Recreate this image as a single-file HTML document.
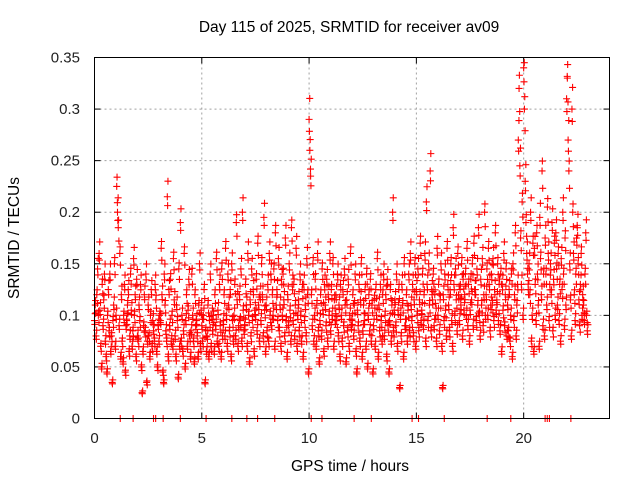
<!DOCTYPE html>
<html><head><meta charset="utf-8"><style>
body{margin:0;background:#fff}
svg{display:block;font-family:"Liberation Sans",sans-serif}
</style></head><body>
<svg id="chart" width="640" height="480" viewBox="0 0 640 480" xmlns="http://www.w3.org/2000/svg">
<rect width="640" height="480" fill="#fff"/>
<text x="349" y="32" font-size="15.5" text-anchor="middle">Day 115 of 2025, SRMTID for receiver av09</text>
<text transform="translate(19,238) rotate(-90)" font-size="15.5" text-anchor="middle">SRMTID / TECUs</text>
<text x="350" y="471" font-size="15.5" text-anchor="middle">GPS time / hours</text>
<g id="grid"></g><g id="ticks"></g><g id="marks"></g>
<rect x="94.5" y="57.5" width="515" height="361" fill="none" stroke="#000" stroke-width="1"/>
</svg>
<script>
const binStarts=[];for(let i=0;i<92;i++)binStarts.push(i*0.25);
const binValues=[
[95,110,80,120,145,100,160],[105,70,50,130,90,115,140],[75,60,45,100,125,85,140],[65,80,35,95,110,150,70],
[100,225,200,185,90,160,60],[120,75,55,100,130,45,90],[95,110,125,65,80,140,105],[70,85,155,100,120,60,135],
[80,75,110,95,130,50,25],[65,90,120,85,140,35,75],[110,80,60,100,125,70,95],[85,75,130,115,65,50,90],
[75,100,95,165,120,45,35],[140,110,85,75,215,60,125],[90,135,75,100,70,155,115],[80,60,110,95,40,145,70],
[190,75,100,65,85,160,50],[95,120,70,105,135,80,60],[85,140,100,75,55,120,90],[95,80,60,110,150,70,105],
[90,75,100,125,35,85,65],[80,110,60,95,140,70,100],[85,100,65,120,90,155,75],[105,70,130,90,60,145,80],
[95,120,80,165,100,70,140],[110,85,125,60,150,95,75],[100,130,80,190,115,70,90],[120,95,145,75,200,105,85],
[90,130,110,70,160,100,55],[115,80,145,95,125,65,105],[100,135,85,170,110,75,120],[95,150,120,80,195,105,65],
[110,85,130,75,160,100,140],[90,120,100,145,70,180,110],[125,95,155,85,110,70,135],[100,140,115,80,175,95,60],
[120,90,150,105,75,185,130],[95,130,80,110,165,70,100],[115,85,140,100,75,125,60],[130,95,110,80,155,120,45],
[290,260,235,120,90,150,75],[100,135,70,110,160,85,55],[95,120,80,145,105,65,130],[110,90,135,75,120,100,160],
[85,125,100,150,70,115,95],[120,95,140,80,110,60,130],[100,75,125,90,145,110,55],[115,85,135,70,100,160,90],
[95,120,80,110,140,65,45],[105,90,130,75,115,150,60],[85,110,95,125,70,140,50],[100,120,85,135,75,110,45],
[90,115,70,125,100,155,60],[110,85,130,95,75,120,140],[80,100,120,60,135,90,45],[95,125,75,110,200,85,105],
[115,90,140,70,105,125,30],[100,80,130,110,60,150,90],[90,120,75,105,140,85,160],[110,95,130,80,115,150,70],
[125,100,145,85,115,170,95],[105,140,90,120,160,75,210],[130,95,150,110,240,85,125],[115,140,90,120,100,75,165],
[100,130,85,115,150,70,30],[120,95,140,105,80,165,130],[110,85,125,150,95,70,185],[130,100,145,115,85,160,120],
[95,125,110,150,80,135,105],[120,140,100,165,90,130,75],[105,135,115,150,90,170,125],[125,95,145,110,185,100,80],
[135,110,155,90,120,200,100],[120,145,100,165,130,85,110],[140,110,155,95,125,180,105],[115,150,95,130,85,140,65],
[130,105,160,90,120,145,80],[110,85,125,75,100,140,60],[150,95,120,180,80,110,130],[270,320,245,175,130,210,100],
[340,300,230,190,160,140,125],[150,120,200,75,100,170,65],[165,130,95,180,140,110,70],[195,155,120,240,90,140,80],
[175,140,110,205,160,95,130],[150,120,190,85,135,170,100],[180,145,110,160,95,130,75],[155,125,200,140,90,175,110],
[310,330,270,240,150,115,80],[300,200,160,120,95,140,175],[185,150,115,90,130,160,100],[120,110,95,140,180,100,85]
];
const zeroTimes=[1.2,1.8,2.75,2.85,3.2,4.0,5.2,6.4,7.1,7.6,8.4,10.1,10.6,12.1,12.9,14.8,15.1,16.3,18.3,19.4,21.0,21.1,21.2,22.2];
const xTicks=[0,5,10,15,20];
const yTicks=[0,0.05,0.1,0.15,0.2,0.25,0.3,0.35];
const yTickLabels=["0","0.05","0.1","0.15","0.2","0.25","0.3","0.35"];
const X0=94.5,X1=609.5,Y0=418.5,Y1=57.5,XMAX=24,YMAX=0.35;
const sx=v=>X0+(v/XMAX)*(X1-X0);
const sy=v=>Y0-(Math.min(v,0.345)/YMAX)*(Y0-Y1);
const NS="http://www.w3.org/2000/svg";
function mk(t,a,p){const e=document.createElementNS(NS,t);for(const k in a)e.setAttribute(k,a[k]);p.appendChild(e);return e;}
const grid=document.getElementById('grid'),ticks=document.getElementById('ticks'),marks=document.getElementById('marks');
xTicks.forEach(t=>{const x=sx(t);
 if(t>0){const g=mk('line',{x1:x,x2:x,y1:Y1,y2:Y0,stroke:'#a0a0a0','stroke-dasharray':'2,3'},grid);
 
 }
 const l=mk('text',{x:x,y:443,'font-size':15,'text-anchor':'middle',fill:'#222'},ticks);l.textContent=t;
 
 
 mk('line',{x1:x,x2:x,y1:Y0,y2:Y0-6,stroke:'#000'},ticks);
 mk('line',{x1:x,x2:x,y1:Y1,y2:Y1+6,stroke:'#000'},ticks);
});
yTicks.forEach((t,i)=>{const y=sy(t===YMAX?0.35*0.9999:t);const yy=t===YMAX?Y1:y;
 if(t>0&&t<YMAX){const g=mk('line',{x1:X0,x2:X1,y1:y,y2:y,stroke:'#a0a0a0','stroke-dasharray':'2,3'},grid);
 
 }
 const l=mk('text',{x:80,y:yy+5,'font-size':15,'text-anchor':'end',fill:'#222'},ticks);l.textContent=yTickLabels[i];
 
 
 mk('line',{x1:X0,x2:X0+6,y1:yy,y2:yy,stroke:'#000'},ticks);
 mk('line',{x1:X1,x2:X1-6,y1:yy,y2:yy,stroke:'#000'},ticks);
});
function plus(x,y,c){const p=mk('path',{d:`M${x-3.5} ${y}H${x+3.5}M${x} ${y-3.5}V${y+3.5}`,stroke:c,'stroke-width':1.1,fill:'none'},marks);return p;}
binValues.forEach((vals,b)=>{vals.forEach((v,j)=>{
 const t=binStarts[b]+j*0.25/vals.length;
 const p=plus(sx(t),sy(v/1000),j%9===8?'#555':'#ff0000');
 
 
 const p2=plus(sx(t+0.03),sy(v/1000*(j%2?0.93:1.07)),'#ff0000');
 
 
 const p3=plus(sx(t+0.015),sy(v/1000*(j%2?1.04:0.96)),'#ff0000');
 
 
});});
zeroTimes.forEach(t=>{const p=plus(sx(t),sy(0),'#ff0000');
 
 });
</script>
</body></html>
